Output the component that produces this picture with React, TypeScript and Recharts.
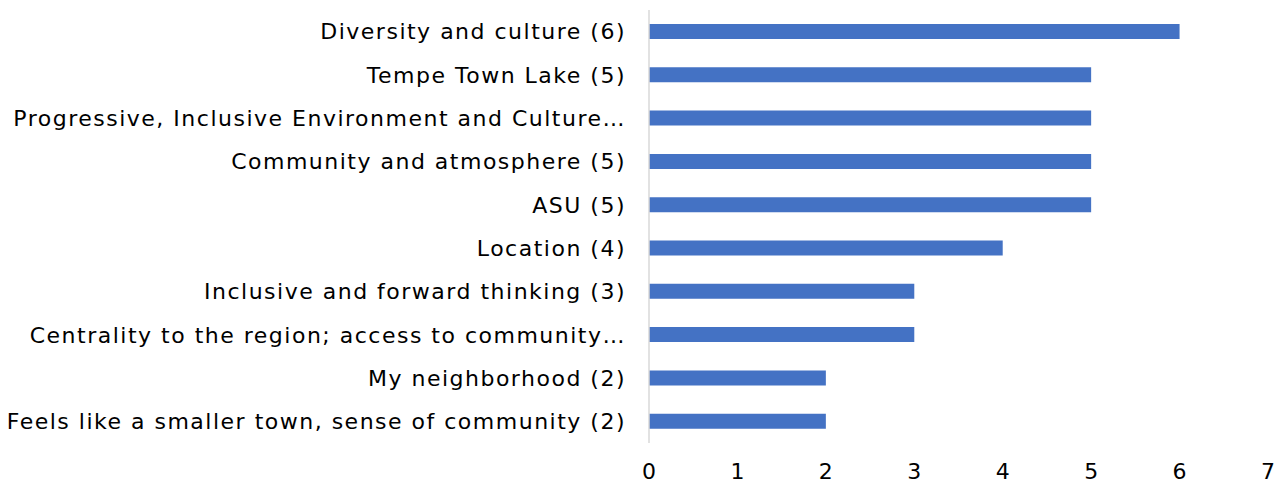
import { BarChart, Bar, XAxis, YAxis, CartesianGrid } from 'recharts'

const categories = [
  'Diversity and culture (6)',
  'Tempe Town Lake (5)',
  'Progressive, Inclusive Environment and Culture…',
  'Community and atmosphere (5)',
  'ASU (5)',
  'Location (4)',
  'Inclusive and forward thinking (3)',
  'Centrality to the region; access to community…',
  'My neighborhood (2)',
  'Feels like a smaller town, sense of community (2)',
]

const counts = [6, 5, 5, 5, 5, 4, 3, 3, 2, 2]

const xTicks = [0, 1, 2, 3, 4, 5, 6, 7]

const data = categories.map((name, i) => ({ name, count: counts[i] }))

const font = '"DejaVu Sans", sans-serif'

export default function App() {
  return (
    <div style={{ position: 'absolute', left: 0, top: 0, background: '#ffffff' }}>
      <BarChart
        width={1286}
        height={487}
        layout="vertical"
        data={data}
        margin={{ top: 10, right: 18, bottom: 0, left: 0 }}
        barCategoryGap={0}
      >
        <CartesianGrid horizontal={false} vertical={false} />
        <XAxis
          type="number"
          domain={[0, 7]}
          ticks={xTicks}
          axisLine={false}
          tickLine={false}
          tickSize={0}
          tickMargin={20}
          height={44}
          tick={{ fill: '#000000', fontFamily: font, fontSize: 22 }}
        />
        <YAxis
          type="category"
          dataKey="name"
          width={649}
          axisLine={{ stroke: '#d9d9d9', strokeWidth: 1.5 }}
          tickLine={false}
          tickSize={0}
          tickMargin={23}
          interval={0}
          tick={{ fill: '#000000', fontFamily: font, fontSize: 22, letterSpacing: 1.5 }}
        />
        <Bar dataKey="count" fill="#4472c4" barSize={15} isAnimationActive={false} />
      </BarChart>
    </div>
  )
}
